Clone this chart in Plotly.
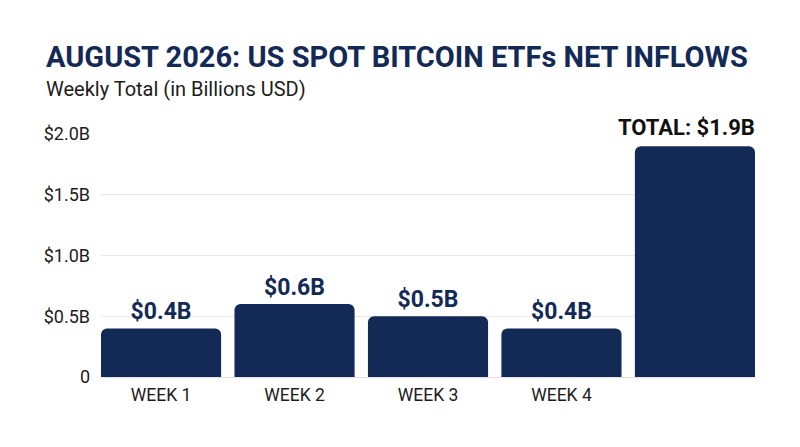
import plotly.graph_objects as go

categories = ["WEEK 1", "WEEK 2", "WEEK 3", "WEEK 4", ""]
values = [0.4, 0.6, 0.5, 0.4, 1.9]
labels = ["$0.4B", "$0.6B", "$0.5B", "$0.4B", ""]
total_label = "TOTAL: $1.9B"
tick_vals = [0, 0.5, 1.0, 1.5, 2.0]
tick_text = ["0", "$0.5B", "$1.0B", "$1.5B", "$2.0B"]
positions = [0, 1, 2, 3, 4]
NAVY = "#132a56"
HALO = "white 0 0 3px, white 0 0 3px, white 0 0 5px, white 0 0 5px, white 0 0 6px"

fig = go.Figure(go.Bar(
    x=positions, y=values, width=0.9,
    marker=dict(color=NAVY, line=dict(width=0), cornerradius=6),
    text=labels, textposition="outside", cliponaxis=False, constraintext="none",
    textangle=0,
    textfont=dict(family="Roboto", size=23, color=NAVY, weight=700, shadow=HALO),
))
fig.update_layout(
    width=792, height=439, margin=dict(l=93, r=45, t=126, b=70),
    paper_bgcolor="white", plot_bgcolor="white", showlegend=False,
    annotations=[
        dict(text="<b>AUGUST 2026: US SPOT BITCOIN ETFs NET INFLOWS</b>", xref="paper", yref="paper",
             x=-0.0872, xanchor="left", y=1.3169, yanchor="middle", showarrow=False,
             font=dict(family="Roboto", size=29, color=NAVY)),
        dict(text="Weekly Total (in Billions USD)", xref="paper", yref="paper",
             x=-0.0872, xanchor="left", y=1.185, yanchor="middle", showarrow=False,
             font=dict(family="Roboto", size=20, color="#1c1c1c")),
        dict(text=f"<b>{total_label}</b>", xref="x", yref="y", x=positions[4] + 0.45, y=values[4],
             xanchor="right", yanchor="bottom", yshift=4, xshift=2, showarrow=False,
             font=dict(family="Roboto", size=22, color="#111111", shadow=HALO)),
    ],
    font=dict(family="Roboto"),
    xaxis=dict(tickvals=positions, ticktext=categories, range=[-0.45, 4.45], showgrid=False, zeroline=False,
               ticks="", tickfont=dict(size=17.5, color="#1c1c1c"), showline=True, linecolor="#dfe1e6", linewidth=1,
               ticklabelstandoff=2),
    yaxis=dict(tickvals=tick_vals, ticktext=tick_text, range=[0, 2.0], gridcolor="#e8e8e8", gridwidth=1, zeroline=False,
               ticks="", tickfont=dict(size=18, color="#1c1c1c"), showline=False, ticklabelstandoff=10),
    bargap=0.1,
)
fig.write_html("out.html")
